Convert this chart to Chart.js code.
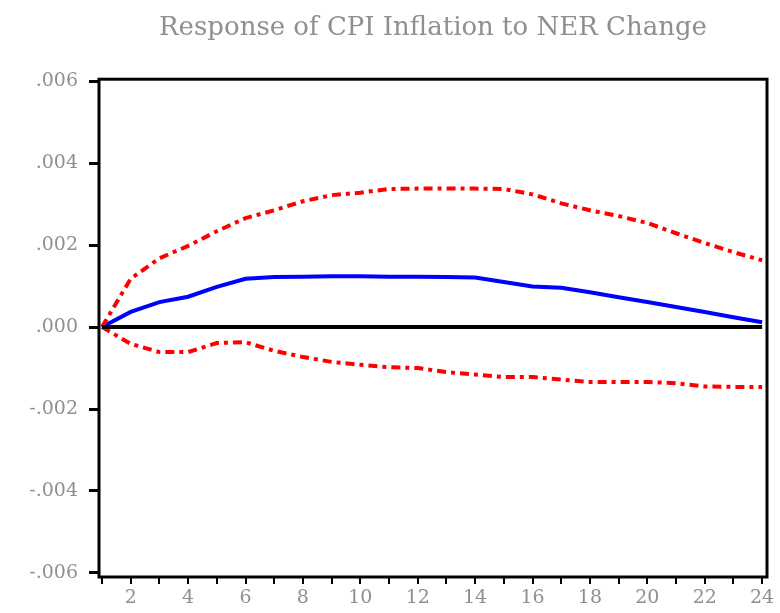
<!DOCTYPE html>
<html>
<head>
<meta charset="utf-8">
<script src="https://cdn.jsdelivr.net/npm/chart.js@4/dist/chart.umd.min.js"></script>
<style>
  html, body { margin: 0; padding: 0; background: #ffffff; }
  #wrap { width: 780px; height: 613px; }
</style>
</head>
<body>
<div id="wrap"><canvas id="c" width="780" height="613"></canvas></div>
<script>
const chartTitle = "Response of CPI Inflation to NER Change";
const periods = [1,2,3,4,5,6,7,8,9,10,11,12,13,14,15,16,17,18,19,20,21,22,23,24];
const response = [0, 0.00037, 0.00061, 0.00074, 0.00098, 0.00118, 0.00122, 0.00123, 0.00124, 0.00124, 0.00123, 0.00123,
                  0.00122, 0.00121, 0.00110, 0.00099, 0.00096, 0.00085, 0.00073, 0.00061, 0.00049, 0.00037, 0.00024, 0.00012];
const upperBand = [0, 0.00118, 0.00168, 0.00198, 0.00234, 0.00266, 0.00285, 0.00307, 0.00322, 0.00328, 0.00337, 0.00338,
                   0.00338, 0.00338, 0.00337, 0.00324, 0.00302, 0.00285, 0.00271, 0.00254, 0.00229, 0.00205, 0.00183, 0.00163];
const lowerBand = [0, -0.00041, -0.00061, -0.00061, -0.00039, -0.00037, -0.00058, -0.00073, -0.00085, -0.00092, -0.00098, -0.00100,
                   -0.00110, -0.00116, -0.00122, -0.00122, -0.00128, -0.00134, -0.00134, -0.00134, -0.00137, -0.00145, -0.00146, -0.00146];
const zeroLine = periods.map(() => 0);
const yTickValues = [0.006, 0.004, 0.002, 0, -0.002, -0.004, -0.006];
const yTickLabels = [".006", ".004", ".002", ".000", "-.002", "-.004", "-.006"];
const xTickLabels = ["", "2", "", "4", "", "6", "", "8", "", "10", "", "12", "", "14", "", "16", "", "18", "", "20", "", "22", "", "24"];

const toXY = arr => periods.map((p, i) => ({x: p, y: arr[i]}));

const framePlugin = {
  id: 'frame',
  afterDatasetsDraw(chart) {
    const a = chart.chartArea, ctx = chart.ctx;
    ctx.save();
    ctx.strokeStyle = '#000';
    ctx.lineWidth = 3;
    ctx.strokeRect(a.left, a.top, a.right - a.left, a.bottom - a.top);
    ctx.restore();
  }
};

new Chart(document.getElementById('c'), {
  type: 'line',
  data: {
    datasets: [
      { label: 'Zero', data: toXY(zeroLine), borderColor: '#000000', borderWidth: 4, pointRadius: 0 },
      { label: 'Upper', data: toXY(upperBand), borderColor: '#ff0000', borderWidth: 4, borderDash: [9, 5, 4, 5], pointRadius: 0 },
      { label: 'Lower', data: toXY(lowerBand), borderColor: '#ff0000', borderWidth: 4, borderDash: [9, 5, 4, 5], pointRadius: 0 },
      { label: 'Response', data: toXY(response), borderColor: '#0000ff', borderWidth: 4, pointRadius: 0 }
    ]
  },
  options: {
    responsive: false,
    animation: false,
    layout: { padding: { top: 0, right: 13, left: 0, bottom: 0 } },
    plugins: {
      legend: { display: false },
      tooltip: { enabled: false },
      title: {
        display: true,
        fullSize: false,
        text: chartTitle,
        color: '#8f8f8f',
        font: { family: 'DejaVu Serif', size: 26, weight: 'normal' },
        padding: { top: 13, bottom: 35 }
      }
    },
    scales: {
      x: {
        type: 'linear',
        min: 0.895,
        max: 24.17,
        afterBuildTicks: s => { s.ticks = periods.map(v => ({value: v})); },
        afterFit: s => { s.height = 36; },
        grid: { drawOnChartArea: false, drawTicks: true, tickLength: 7, color: '#000', lineWidth: 2 },
        border: { display: false },
        ticks: {
          autoSkip: false, maxRotation: 0, padding: 3,
          color: '#8f8f8f',
          font: { family: 'DejaVu Serif', size: 19 },
          callback: (v) => xTickLabels[periods.indexOf(v)] ?? ''
        }
      },
      y: {
        min: -0.0061,
        max: 0.00605,
        afterBuildTicks: s => { s.ticks = yTickValues.map(v => ({value: v})); },
        afterFit: s => { s.width = 99; },
        grid: { drawOnChartArea: false, drawTicks: true, tickLength: 10, color: '#000', lineWidth: 3 },
        border: { display: false },
        ticks: {
          padding: 11,
          color: '#8f8f8f',
          font: { family: 'DejaVu Serif', size: 19 },
          callback: (v) => { const i = yTickValues.indexOf(v); return i >= 0 ? yTickLabels[i] : ''; }
        }
      }
    }
  },
  plugins: [framePlugin]
});
</script>
</body>
</html>
